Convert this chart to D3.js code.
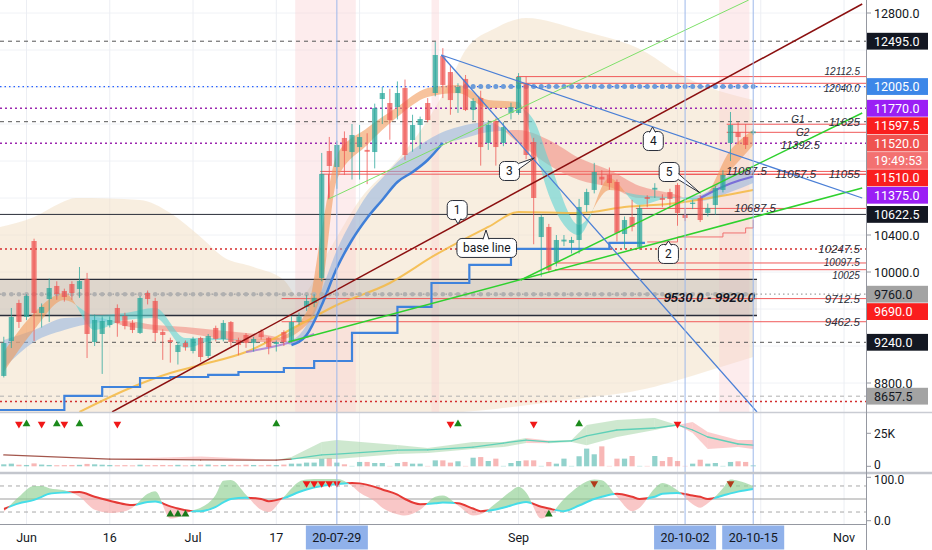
<!DOCTYPE html>
<html>
<head>
<meta charset="utf-8">
<script src="https://cdn.jsdelivr.net/npm/d3@7"></script>
<style>
  body { margin: 0; background: #fff; }
  svg { display: block; font-family: Roboto, "Liberation Sans", sans-serif; }
</style>
</head>
<body>
<svg id="chart" width="932" height="550"></svg>
<script>
'use strict';

// ---- candles, trading-day index 0 = 2020-05-27 ... 99 = 2020-10-15 : [open, high, low, close]
const candles = [
  [8876, 9300, 8860, 9232], [9254, 9611, 9178, 9514], [9665, 9700, 9395, 9460], [9514, 9760, 9480, 9741],
  [10335, 10360, 9254, 9557], [9557, 9660, 9400, 9622], [9708, 9930, 9460, 9827], [9849, 9900, 9700, 9762],
  [9795, 9820, 9680, 9730], [9870, 9900, 9700, 9773], [9816, 10054, 9720, 9903], [9924, 9990, 9070, 9330],
  [9243, 9540, 9200, 9481], [9330, 9520, 8898, 9470], [9427, 9520, 9400, 9481], [9611, 9650, 9300, 9449],
  [9524, 9560, 9380, 9416], [9449, 9480, 9340, 9373], [9341, 9740, 9330, 9719], [9773, 9800, 9650, 9708],
  [9687, 9720, 9250, 9341], [9352, 9380, 9050, 9319], [9265, 9290, 9020, 9243], [9135, 9240, 9000, 9211],
  [9232, 9260, 9150, 9189], [9146, 9300, 9120, 9276], [9287, 9300, 9030, 9081], [9092, 9330, 9070, 9308],
  [9395, 9420, 9250, 9276], [9276, 9480, 9250, 9449], [9459, 9470, 9200, 9243], [9265, 9290, 9100, 9211],
  [9319, 9340, 9180, 9232], [9232, 9300, 9140, 9276], [9362, 9380, 9270, 9297], [9287, 9300, 9110, 9189],
  [9222, 9260, 9140, 9243], [9351, 9370, 9200, 9243], [9254, 9520, 9240, 9459], [9459, 9560, 9430, 9520],
  [9622, 9750, 9580, 9687], [9665, 9760, 9620, 9720], [9935, 11287, 9900, 11060], [11308, 11460, 10800, 11146],
  [11135, 11420, 10900, 11373], [11449, 11520, 11050, 11308], [11297, 11600, 11000, 11481], [11351, 11590, 11000, 11459],
  [11320, 11500, 10950, 11300], [11297, 11820, 11120, 11773], [11870, 12000, 11600, 11935], [11827, 11980, 11430, 11643],
  [11784, 12060, 11650, 11935], [11989, 12080, 11210, 11265], [11427, 11700, 11300, 11589], [11589, 11680, 11330, 11654],
  [11827, 11880, 11620, 11643], [11935, 12486, 11900, 12346], [12335, 12420, 11880, 12022], [12162, 12240, 11700, 11859],
  [11935, 12040, 11720, 12000], [12087, 12130, 11740, 11751], [11751, 11880, 11640, 11849], [11881, 11960, 11150, 11351],
  [11395, 11640, 11320, 11589], [11632, 11660, 11150, 11351], [11395, 11620, 11360, 11567], [11719, 11830, 11650, 11784],
  [11719, 12150, 11700, 12108], [12043, 12110, 11220, 11265], [11405, 11450, 10300, 10800], [10378, 10620, 9950, 10595],
  [10487, 10520, 9990, 10022], [10108, 10400, 10060, 10346], [10330, 10400, 10280, 10350], [10314, 10380, 10200, 10346],
  [10346, 10790, 10200, 10703], [10724, 10900, 10650, 10865], [10887, 11180, 10850, 11081], [11030, 11100, 10940, 11000],
  [11049, 11130, 10890, 10962], [10973, 11000, 10330, 10422], [10411, 10600, 10250, 10562], [10595, 10780, 10440, 10487],
  [10270, 10720, 10240, 10692], [10810, 10830, 10700, 10790], [10890, 10960, 10800, 10910], [10800, 10840, 10700, 10780],
  [10865, 10900, 10700, 10789], [10941, 10960, 10500, 10638], [10616, 10680, 10550, 10584], [10735, 10780, 10680, 10750],
  [10800, 10830, 10540, 10562], [10638, 10740, 10600, 10692], [10724, 10930, 10620, 10908], [10887, 11100, 10860, 11049],
  [11395, 11730, 11200, 11589], [11513, 11620, 11380, 11459], [11459, 11600, 11330, 11373], [11500, 11540, 11480, 11520]
];

// volume in thousands, one per candle
const volumes = [
  1.5, 2.0, 1.2, 1.0, 2.2, 1.3, 1.0, 0.8, 0.9, 1.0, 1.1, 1.8, 1.5, 1.2, 1.0, 0.8, 0.9, 0.7, 1.2, 0.8,
  0.9, 1.0, 0.9, 1.1, 0.7, 1.0, 1.2, 1.3, 0.9, 1.0, 1.1, 0.8, 1.2, 1.0, 0.8, 1.1, 0.9, 1.3, 2.0, 2.0,
  2.8, 2.8, 5.8, 6.3, 2.8, 1.5, 0.3, 3.3, 3.3, 2.5, 2.5, 0.3, 2.5, 3.3, 2.0, 2.0, 0.3, 4.5, 4.5, 2.8,
  3.8, 0.3, 6.5, 7.0, 4.0, 5.8, 0.3, 2.5, 4.0, 4.5, 4.5, 0.3, 3.3, 2.0, 5.8, 0.3, 7.6, 13.4, 9.1, 15.1,
  0.3, 5.8, 5.8, 7.8, 0.3, 0.3, 7.8, 4.0, 7.0, 4.0, 0.3, 2.0, 5.0, 2.0, 2.5, 0.3, 3.3, 3.8, 3.3, 0.7
];

// time axis
const gridDays = [3, 14, 25, 36, 47, 68, 89, 100, 111];
const tickLabels = [['Jun', 3], ['16', 14], ['Jul', 25], ['17', 36], ['Sep', 68], ['Nov', 111]];
const markedDays = [[44, '20-07-29'], [90, '20-10-02'], [99, '20-10-15']];
const priceTicks = d3.range(8800, 12801, 400);

// envelope cloud [index], top / bottom price
const cloudIdx = [-0.5, 4, 7.5, 9.5, 18, 22, 26, 29, 33, 37, 39, 43, 47, 52, 56, 59, 61, 65, 69, 76, 85, 89, 93, 99];
const cloudTop = [10487, 10595, 10746, 10800, 10779, 10638, 10378, 10162, 10054, 9914, 9730, 10238, 10779, 11211,
  11643, 12076, 12400, 12638, 12746, 12616, 12368, 12151, 12000, 11860];
const cloudBot = [8450, 8450, 8450, 8450, 8450, 8450, 8450, 8450, 8450, 8450, 8450, 8450, 8450, 8460,
  8470, 8480, 8490, 8520, 8560, 8630, 8740, 8830, 8930, 9080];

// fast ribbon (orange / teal)
const ribAIdx = [0, 4, 8, 12, 16, 20, 24, 28, 32, 36, 40, 42, 44, 48, 52, 56, 60, 64, 68, 70, 72, 76, 80, 84, 88, 92, 96, 99];
const ribAFast = [9135, 9557, 9773, 9373, 9481, 9503, 9179, 9265, 9265, 9287, 9568, 10454, 11265, 11557,
  11784, 11989, 12022, 11860, 11838, 11373, 10833, 10400, 11016, 10724, 10800, 10779, 11319, 11535];
const ribASlow = [8919, 9373, 9698, 9535, 9557, 9611, 9287, 9287, 9265, 9265, 9427, 9806, 10995, 11373,
  11676, 11892, 11935, 11773, 11773, 11643, 11211, 10508, 10887, 10833, 10811, 10800, 11103, 11373];

// slow ribbon (blue / pink)
const ribBIdx = [0, 4, 8, 12, 16, 20, 24, 28, 32, 36, 38, 40, 42, 44, 46, 48, 50, 52, 54, 56, 58, 60, 64, 68, 72, 76, 80, 84, 88, 92, 96, 99];
const ribBFast = [9265, 9373, 9503, 9514, 9416, 9373, 9341, 9287, 9244, 9244, 9265, 9427, 9806, 10238, 10562, 10833,
  11016, 11189, 11319, 11427, 11514, 11568, 11622, 11395, 11157, 10995, 10919, 10800, 10800, 10833, 11049, 11103];
const ribBSlow = [8962, 9244, 9373, 9449, 9470, 9427, 9406, 9373, 9341, 9298, 9211, 9319, 9643, 10043, 10346, 10584,
  10779, 10973, 11081, 11211, 11395, 11427, 11514, 11535, 11427, 11233, 11103, 10930, 10854, 10768, 10865, 10962];

// base line (yellow), stepped line, short purple average, red trailing step
const baseIdx = [10, 17, 22, 26, 32, 39, 44, 51, 57, 64, 68, 76, 82, 89, 94, 99];
const baseVal = [8487, 8757, 8908, 8995, 9135, 9427, 9643, 9881, 10184, 10487, 10649, 10638, 10703, 10746, 10811, 10887];
const stepIdx = [-0.5, 8, 13, 18, 22, 27, 31, 37, 41, 46, 52, 56.5, 61.5, 67, 80, 84.7];
const stepVal = [8508, 8660, 8757, 8854, 8865, 8887, 8919, 8962, 9038, 9341, 9622, 9881, 10076, 10249, 10314, 10314];
const purIdx = [32, 38, 41];
const purVal = [9135, 9244, 9330];
const trailIdx = [85, 89, 95, 98, 99];
const trailVal = [10325, 10379, 10422, 10476, 10562];

// horizontal levels
const dashedLevels = [12495, 11625, 9240];
const grayDashLevels = [8657.5];
const purpleDotLevels = [11770, 11392.5];
const blueDotLevels = [12005];
const redDotLevels = [10247.5, 8600];
const solidLevels = [10622.5];
const grayDotLevels = [9760];
const redRays = [[12112.5, 67.8], [12040, 67.8], [11597.5, 95.5], [11510, 95.5], [11087.5, 41.8], [11057.5, 41.8],
  [11055, 71.6], [10687.5, 83.5], [10097.5, 72.8], [10025, 72.8], [9712.5, 36.7], [9462.5, 36.7]];
const zone = [9530, 9920];
const blueDots = [12005, 61, 99];
const grayDots = [9760, 0, 99];
const pinkBands = [[39, 43], [44, 46], [57, 57], [95, 98]];

// trend lines [index, price] -> [index, price]
const darkRedLine = [[14.3, 8487], [113.4, 12897]];
const greenThin = [[42.9, 10789], [98.4, 12940]];
const greenA = [[68.3, 9914], [113.4, 11719]];
const greenB = [[37.6, 9244], [113.4, 10908]];
const blueSteep = [[57.8, 12346], [99.5, 8487]];
const blueShallow = [[57.8, 12346], [113.4, 10800]];
const redTick = [[42.9, 11060], [42.9, 10789]];

// callouts: text, tip index, tip price, box index, box price
const callouts = [
  ['1', 60.0, 10519, 59.9, 10670], ['3', 70.1, 11233, 66.8, 11092], ['base line', 63.7, 10454, 63.8, 10260],
  ['4', 85.7, 11568, 85.8, 11416], ['5', 92.0, 10854, 87.9, 11081], ['2', 87.8, 10335, 87.8, 10195]
];

// italic level tags: text, price, right edge index
const lineTags = [
  ['12112.5', 12112.5, 113.1], ['12040.0', 12040, 113.1], ['11625', 11625, 113.1], ['G1', 11597.5, 105.8],
  ['G2', 11510, 106.4], ['11392.5', 11392.5, 107.8], ['11087.5', 11087.5, 100.8], ['11057.5', 11057.5, 107.3],
  ['11055', 11055, 113.1], ['10687.5', 10687.5, 102.0], ['10247.5', 10247.5, 113.1], ['10097.5', 10097.5, 113.1],
  ['10025', 10025, 113.1], ['9712.5', 9712.5, 113.1], ['9462.5', 9462.5, 113.1]
];

// price axis boxes: price, kind
const axisBoxes = [[12495, 'black'], [12005, 'blue'], [11770, 'purple'], [11597.5, 'red'], [11520, 'last'],
  [11510, 'red'], [11375, 'purple'], [10622.5, 'black'], [9760, 'gray'], [9690, 'red'], [9240, 'black'], [8657.5, 'gray']];
const countdown = '19:49:53';

// volume moving average and its band (thousands)
const volIdx = [0, 14, 26, 36, 38, 42, 44, 52, 56, 62, 66, 69, 72, 75, 77, 81, 86, 89, 91, 93, 97, 99];
const volMA = [8.6, 5.5, 4.8, 4.7, 5.5, 8.6, 9.3, 12.3, 12.4, 14.6, 17.6, 19.9, 18.5, 19.2, 23, 27.5, 29, 31.3, 27.5, 22.2, 16.9, 16.1];
const volUp = [8.6, 5.5, 7.5, 4.7, 7.0, 18.4, 19.9, 16.1, 13.9, 18.4, 18.4, 21.4, 19.5, 20, 31.3, 35, 36.6, 31.3, 33.6, 26, 19.9, 19.9];
const volLo = [8.6, 5.5, 4.8, 4.7, 5.5, 5.5, 5.5, 9.3, 10, 13.1, 14.6, 17.6, 17.5, 18.5, 16, 22.2, 27.5, 31.3, 25.2, 13.1, 14.6, 13.1];
const volBuyIdx = [3, 7, 10, 36, 60, 76];
const volSellIdx = [2, 5, 8, 15, 59, 70, 89];

// oscillator %K / %D
const oscIdx = [0, 2, 4, 5, 6, 8, 10, 12, 14, 16, 17, 19, 20, 22, 23, 25, 26, 28, 29, 30, 32, 34, 35, 37, 39, 40, 42, 44, 46, 47,
  49, 50, 52, 53, 55, 57, 58, 60, 62, 63, 65, 67, 68, 69, 71, 72, 74, 76, 78, 79, 81, 83, 84, 86, 87, 89, 91, 92, 93, 95, 96, 97, 99];
const oscK = [20, 55, 80, 80, 75, 70, 55, 25, 18, 22, 30, 62, 68, 5, 8, 24, 30, 60, 92, 94, 60, 25, 20, 55, 90, 95, 96, 96, 80, 65,
  45, 30, 15, 12, 25, 55, 58, 35, 12, 15, 40, 68, 78, 65, 5, 12, 50, 80, 95, 93, 55, 22, 30, 75, 87, 70, 38, 30, 40, 75, 95, 92, 80];
const oscD = [27, 40, 48, 55, 62, 65, 66, 55, 46, 38, 36, 43, 44, 33, 28, 22, 22, 32, 42, 50, 53, 50, 45, 52, 66, 72, 80, 84, 87, 86,
  78, 72, 60, 50, 38, 40, 42, 40, 28, 22, 26, 35, 40, 43, 32, 28, 22, 35, 50, 55, 62, 55, 50, 55, 62, 64, 58, 55, 50, 58, 63, 67, 73];
const oscBuyIdx = [22, 23, 24, 72];
const oscSellIdx = [40, 41, 42, 43, 44];
const oscSellIdx2 = [78, 96];
const oscLevels = [80, 50, 20];

// ---------------------------------------------------------------------------
const AX = 866;
const TEAL = '#26a69a', RED = '#ef5350';
const svg = d3.select('#chart');
const defs = svg.append('defs');

const x = d3.scaleLinear().domain([-0.5, 113.9]).range([0, AX]);
const y = d3.scaleLinear().domain([8800, 12800]).range([383, 13]);
const yVol = d3.scaleLinear().domain([0, 25]).range([466.3, 433.3]);
const yOsc = d3.scaleLinear().domain([0, 100]).range([520.7, 477.3]);

function panel(id, top, h) {
  defs.append('clipPath').attr('id', id).append('rect').attr('x', 0).attr('y', top).attr('width', AX).attr('height', h);
  return svg.append('g').attr('clip-path', `url(#${id})`);
}
const gMain = panel('clip-main', 0, 412);
const gVol = panel('clip-vol', 413, 59);
const gOsc = panel('clip-osc', 474, 50);

const pts = (idx, vals) => idx.map((i, k) => [x(i), y(vals[k])]);
const lineGen = d3.line();

// grid
gMain.selectAll('.hgrid').data(priceTicks).join('line').attr('class', 'hgrid')
  .attr('x1', 0).attr('x2', AX).attr('y1', d => y(d)).attr('y2', d => y(d))
  .attr('stroke', '#f0f2f6');
[gMain, gVol, gOsc].forEach(g => g.selectAll('.vgrid').data(gridDays).join('line').attr('class', 'vgrid')
  .attr('x1', d => x(d)).attr('x2', d => x(d)).attr('y1', 0).attr('y2', 524)
  .attr('stroke', '#eceef3'));

// cloud
gMain.append('path')
  .attr('d', d3.area().curve(d3.curveMonotoneX).x(d => x(d)).y0((d, k) => y(cloudBot[k])).y1((d, k) => y(cloudTop[k]))(cloudIdx))
  .attr('fill', '#f2e0c6').attr('opacity', 0.55);

// highlighted candles
gMain.selectAll('.pband').data(pinkBands).join('rect').attr('class', 'pband')
  .attr('x', d => x(d[0] - 0.5)).attr('width', d => x(d[1] + 0.5) - x(d[0] - 0.5))
  .attr('y', 0).attr('height', 412).attr('fill', '#fbcfd2').attr('opacity', 0.4);

// zone
gMain.append('rect').attr('x', x(-0.5)).attr('width', x(99.5) - x(-0.5))
  .attr('y', y(zone[1])).attr('height', y(zone[0]) - y(zone[1]))
  .attr('fill', '#9a9a9a').attr('opacity', 0.28);
gMain.selectAll('.zline').data(zone).join('line').attr('class', 'zline')
  .attr('x1', x(-0.5)).attr('x2', x(99.5)).attr('y1', d => y(d)).attr('y2', d => y(d))
  .attr('stroke', '#2a2e39').attr('stroke-width', 1.3);

// horizontal levels
function levels(vals, stroke, dash, width) {
  gMain.selectAll(null).data(vals).join('line')
    .attr('x1', 0).attr('x2', AX).attr('y1', d => y(d)).attr('y2', d => y(d))
    .attr('stroke', stroke).attr('stroke-width', width).attr('stroke-dasharray', dash);
}
levels(dashedLevels, '#555', '4,4', 1);
levels(grayDashLevels, '#b0b0b0', '4,4', 1);
levels(solidLevels, '#2a2e39', null, 1);
levels(blueDotLevels, '#2962ff', '1.5,3', 1.2);
levels(purpleDotLevels, '#9c27b0', '2,3', 1.5);
levels(redDotLevels, '#d32f2f', '2,3', 1.5);
levels(grayDotLevels, '#a0a0a0', '1.5,3', 1.2);
gMain.selectAll('.ray').data(redRays).join('line').attr('class', 'ray')
  .attr('x1', d => x(d[1])).attr('x2', AX).attr('y1', d => y(d[0])).attr('y2', d => y(d[0]))
  .attr('stroke', '#f05a5a').attr('stroke-width', 1);
gMain.append('line').attr('x1', x(67.8)).attr('x2', x(67.8)).attr('y1', y(12112.5)).attr('y2', y(12040))
  .attr('stroke', '#f05a5a');

// two-colour ribbon between curves a and b (a above b -> colUp)
let clipN = 0;
function ribbon(g, idx, a, b, scale, colUp, colDn, op) {
  const p = idx.map((i, k) => ({x: x(i), a: scale(a[k]), b: scale(b[k])}));
  const area = d3.area().curve(d3.curveMonotoneX).x(d => d.x);
  const id = 'rb' + (clipN++);
  defs.append('clipPath').attr('id', id + 'u').append('path').attr('d', area.y0(d => d.a).y1(700)(p));
  defs.append('clipPath').attr('id', id + 'd').append('path').attr('d', area.y0(-100).y1(d => d.a)(p));
  g.append('path').attr('clip-path', `url(#${id}u)`).attr('d', area.y0(-100).y1(d => d.b)(p))
    .attr('fill', colUp).attr('opacity', op);
  g.append('path').attr('clip-path', `url(#${id}d)`).attr('d', area.y0(d => d.b).y1(700)(p))
    .attr('fill', colDn).attr('opacity', op);
  return {id, p};
}
ribbon(gMain, ribBIdx, ribBFast, ribBSlow, y, '#8fb2e0', '#f0857a', 0.55);
ribbon(gMain, ribAIdx, ribAFast, ribASlow, y, '#f29b5c', '#5fd4d4', 0.6);

const smooth = d3.line().curve(d3.curveMonotoneX);
gMain.append('path').attr('d', smooth(pts(baseIdx, baseVal)))
  .attr('fill', 'none').attr('stroke', '#f5b942').attr('stroke-width', 2).attr('opacity', 0.85);
gMain.append('path').attr('d', smooth(pts(purIdx, purVal)))
  .attr('fill', 'none').attr('stroke', '#a57bd6').attr('stroke-width', 2).attr('opacity', 0.8);
gMain.append('path').attr('d', d3.line().curve(d3.curveStepAfter)(pts(stepIdx, stepVal)))
  .attr('fill', 'none').attr('stroke', '#3f83dc').attr('stroke-width', 2.2);
gMain.append('path').attr('d', d3.line().curve(d3.curveStepAfter)(pts(trailIdx, trailVal)))
  .attr('fill', 'none').attr('stroke', '#f07070').attr('stroke-width', 1);
const thickRun = ribBIdx.map((i, k) => [i, ribBSlow[k]]).filter(d => d[0] >= 38 && d[0] <= 58);
gMain.append('path').attr('d', smooth(thickRun.map(d => [x(d[0]), y(d[1])])))
  .attr('fill', 'none').attr('stroke', '#3f7fd8').attr('stroke-width', 2.5);
const thickEnd = ribBIdx.map((i, k) => [i, (ribBSlow[k] + ribBFast[k]) / 2]).filter(d => d[0] >= 92);
gMain.append('path').attr('d', smooth(thickEnd.map(d => [x(d[0]), y(d[1])])))
  .attr('fill', 'none').attr('stroke', '#7a6fd8').attr('stroke-width', 2.2);

// dotted circle rows
gMain.selectAll('.bdot').data(d3.range(blueDots[1], blueDots[2] + 1)).join('circle').attr('class', 'bdot')
  .attr('cx', d => x(d)).attr('cy', y(blueDots[0])).attr('r', 2.5).attr('fill', '#6b9bd8');
gMain.selectAll('.gdot').data(d3.range(grayDots[1], grayDots[2] + 1)).join('circle').attr('class', 'gdot')
  .attr('cx', d => x(d)).attr('cy', y(grayDots[0])).attr('r', 2.3).attr('fill', '#b0b0b0');

// candles
const isUp = d => d[3] >= d[0];
const bw = 5.2;
gMain.selectAll('.wick').data(candles).join('line').attr('class', 'wick')
  .attr('x1', (d, i) => x(i)).attr('x2', (d, i) => x(i)).attr('y1', d => y(d[1])).attr('y2', d => y(d[2]))
  .attr('stroke', d => isUp(d) ? TEAL : RED).attr('opacity', 0.75);
gMain.selectAll('.body').data(candles).join('rect').attr('class', 'body')
  .attr('x', (d, i) => x(i) - bw / 2).attr('width', bw)
  .attr('y', d => y(Math.max(d[0], d[3]))).attr('height', d => Math.max(1, Math.abs(y(d[0]) - y(d[3]))))
  .attr('fill', d => isUp(d) ? TEAL : RED).attr('opacity', 0.72);

// trend lines
function seg(l, stroke, w) {
  gMain.append('line').attr('x1', x(l[0][0])).attr('y1', y(l[0][1])).attr('x2', x(l[1][0])).attr('y2', y(l[1][1]))
    .attr('stroke', stroke).attr('stroke-width', w);
}
seg(redTick, '#f05a5a', 1);
seg(greenThin, '#7ee06a', 1);
seg(greenA, '#2ed12e', 1.5);
seg(greenB, '#2ed12e', 1.5);
seg(darkRedLine, '#8b1010', 1.5);
seg(blueSteep, '#4a7fd6', 1.3);
seg(blueShallow, '#4a7fd6', 1.3);

// callouts
callouts.forEach(([text, ti, tp, bi, bp]) => {
  const g = gMain.append('g');
  const tx = x(ti), ty = y(tp), cx = x(bi), cy = y(bp);
  const t = g.append('text').attr('x', cx).attr('y', cy + 4).attr('text-anchor', 'middle')
    .attr('font-size', 12).attr('fill', '#131722').text(text);
  const w = Math.max(20, t.node().getComputedTextLength() + 12), h = 19;
  const L = cx - w / 2, R = cx + w / 2, T = cy - h / 2, B = cy + h / 2;
  const dxo = Math.max(0, tx - R, L - tx), dyo = Math.max(0, T - ty, ty - B);
  let b1, b2;
  if (dyo >= dxo) {
    const bx = Math.max(L + 5, Math.min(R - 5, tx));
    const ey = ty < T ? T + 1 : B - 1;
    b1 = [bx - 3, ey]; b2 = [bx + 3, ey];
  } else {
    const by = Math.max(T + 5, Math.min(B - 5, ty));
    const ex = tx > R ? R - 1 : L + 1;
    b1 = [ex, by - 3]; b2 = [ex, by + 3];
  }
  g.insert('rect', 'text').attr('x', L).attr('y', T).attr('width', w).attr('height', h).attr('rx', 5)
    .attr('fill', '#fff').attr('stroke', '#2a2e39').attr('stroke-width', 1);
  g.insert('path', 'text').attr('d', `M${b1}L${tx},${ty}L${b2}`)
    .attr('fill', '#fff').attr('stroke', '#2a2e39').attr('stroke-width', 1);
});

// level tags; tags on close pairs of lines are nudged above / below their line: [dy, size]
const tagShift = {
  '12112.5': [-1.5, 10], '12040.0': [8.5, 10], 'G1': [-1, 10], 'G2': [3.5, 10], '11392.5': [6, 11],
  '10097.5': [3, 10], '10025': [9, 10]
};
gMain.selectAll('.tag').data(lineTags).join('text').attr('class', 'tag')
  .attr('x', d => x(d[2])).attr('y', d => y(d[1]) + (tagShift[d[0]] ? tagShift[d[0]][0] : 4))
  .attr('text-anchor', 'end')
  .attr('font-family', '"Liberation Sans", Arial, sans-serif').attr('font-style', 'italic')
  .attr('font-size', d => tagShift[d[0]] ? tagShift[d[0]][1] : 11.5).attr('fill', '#2a2e39').text(d => d[0]);
gMain.append('text').attr('x', x(99.2)).attr('y', y((zone[0] + zone[1]) / 2) + 5).attr('text-anchor', 'end')
  .attr('font-family', '"Liberation Sans", Arial, sans-serif').attr('font-style', 'italic').attr('font-weight', 'bold')
  .attr('font-size', 13).attr('fill', '#131722').text(`${zone[0].toFixed(1)} - ${zone[1].toFixed(1)}`);

// ---- volume panel
gVol.selectAll('.vbar').data(volumes).join('rect').attr('class', 'vbar')
  .attr('x', (d, i) => x(i) - bw / 2).attr('width', bw)
  .attr('y', d => yVol(d)).attr('height', d => yVol(0) - yVol(d))
  .attr('fill', (d, i) => isUp(candles[i]) ? TEAL : RED).attr('opacity', (d, i) => isUp(candles[i]) ? 0.5 : 0.42);
for (let k = 0; k < volIdx.length - 1; k++) {
  const poly = [[x(volIdx[k]), yVol(volUp[k])], [x(volIdx[k + 1]), yVol(volUp[k + 1])],
    [x(volIdx[k + 1]), yVol(volLo[k + 1])], [x(volIdx[k]), yVol(volLo[k])]];
  const rising = volMA[k + 1] >= volMA[k];
  gVol.append('path').attr('d', lineGen(poly) + 'Z')
    .attr('fill', rising ? '#a5d6a7' : '#f8a5a5').attr('opacity', 0.55);
  gVol.append('line').attr('x1', x(volIdx[k])).attr('y1', yVol(volMA[k])).attr('x2', x(volIdx[k + 1])).attr('y2', yVol(volMA[k + 1]))
    .attr('stroke', volIdx[k] < 38 ? '#a3564c' : '#5fd0b8').attr('stroke-width', 1.3).attr('stroke-linecap', 'round');
}
const tri = d3.symbol(d3.symbolTriangle, 26);
gVol.selectAll('.vb').data(volBuyIdx).join('path').attr('class', 'vb')
  .attr('d', tri).attr('transform', d => `translate(${x(d)},424)`).attr('fill', '#1b8a1b');
gVol.selectAll('.vs').data(volSellIdx).join('path').attr('class', 'vs')
  .attr('d', tri).attr('transform', d => `translate(${x(d)},424) rotate(180)`).attr('fill', '#f01818');

// ---- oscillator panel
gOsc.selectAll('.olev').data(oscLevels).join('line').attr('class', 'olev')
  .attr('x1', 0).attr('x2', AX).attr('y1', d => yOsc(d)).attr('y2', d => yOsc(d))
  .attr('stroke', d => d === 50 ? '#9e9e9e' : '#a8a8a8').attr('stroke-dasharray', d => d === 50 ? null : '4,4');
const osc = ribbon(gOsc, oscIdx, oscK, oscD, yOsc, '#8fcf92', '#f6a9a9', 0.65);
const dLine = d3.line().curve(d3.curveMonotoneX).x(d => d.x).y(d => d.b)(osc.p);
gOsc.append('path').attr('clip-path', `url(#${osc.id}u)`).attr('d', dLine)
  .attr('fill', 'none').attr('stroke', '#45dde8').attr('stroke-width', 2);
gOsc.append('path').attr('clip-path', `url(#${osc.id}d)`).attr('d', dLine)
  .attr('fill', 'none').attr('stroke', '#e53935').attr('stroke-width', 2);
gOsc.selectAll('.ob').data(oscBuyIdx).join('path').attr('class', 'ob')
  .attr('d', tri).attr('transform', d => `translate(${x(d)},${yOsc(15)})`).attr('fill', '#1b7a1b');
gOsc.selectAll('.os').data(oscSellIdx).join('path').attr('class', 'os')
  .attr('d', tri).attr('transform', d => `translate(${x(d)},${yOsc(86)}) rotate(180)`).attr('fill', '#f01818');
gOsc.selectAll('.os2').data(oscSellIdx2).join('path').attr('class', 'os2')
  .attr('d', tri).attr('transform', d => `translate(${x(d)},${yOsc(86)}) rotate(180)`).attr('fill', '#b13a1a');

// marked day verticals over all panels
svg.selectAll('.mday').data(markedDays).join('line').attr('class', 'mday')
  .attr('x1', d => x(d[0])).attr('x2', d => x(d[0])).attr('y1', 0).attr('y2', 524)
  .attr('stroke', '#9db8ea').attr('stroke-width', 1);

// separators and axis frame
svg.append('line').attr('x1', 0).attr('x2', 932).attr('y1', 412.5).attr('y2', 412.5).attr('stroke', '#c9ccd3').attr('stroke-width', 1.5);
svg.append('line').attr('x1', 0).attr('x2', 932).attr('y1', 473).attr('y2', 473).attr('stroke', '#c3c6cd').attr('stroke-width', 2.5);
svg.append('line').attr('x1', 0).attr('x2', AX).attr('y1', 524.5).attr('y2', 524.5).attr('stroke', '#9598a1');
svg.append('line').attr('x1', AX + 0.5).attr('x2', AX + 0.5).attr('y1', 0).attr('y2', 550).attr('stroke', '#9598a1');

// ---- price axis
const boxH = 17.4;
let prev = -Infinity;
const placed = axisBoxes.slice().sort((a, b) => b[0] - a[0]).map(([p, kind]) => {
  const yy = Math.max(y(p), prev + boxH);
  prev = yy + (kind === 'last' ? boxH : 0);
  return {p, kind, y: yy};
});
const boxYs = placed.flatMap(d => d.kind === 'last' ? [d.y, d.y + boxH] : [d.y]);
const axisG = svg.append('g').attr('font-size', 12.5);
priceTicks.filter(t => boxYs.every(b => Math.abs(b - y(t)) >= 9)).forEach(t => {
  axisG.append('line').attr('x1', AX).attr('x2', AX + 5).attr('y1', y(t)).attr('y2', y(t)).attr('stroke', '#9598a1');
  axisG.append('text').attr('x', AX + 8).attr('y', y(t) + 4.5).attr('fill', '#131722').text(t.toFixed(1));
});
const kinds = {
  black: ['#131722', '#fff'], blue: ['#3d87e8', '#fff'], purple: ['#9a1ff5', '#fff'], red: ['#fa1e1e', '#fff'],
  last: ['#ef5350', '#fff'], gray: ['#a3a3a3', '#131722']
};
placed.forEach(d => {
  const [bg, fg] = kinds[d.kind];
  axisG.append('rect').attr('x', AX + 1).attr('y', d.y - boxH / 2 + 0.3).attr('width', 61).attr('height', boxH - 0.6).attr('fill', bg);
  axisG.append('text').attr('x', AX + 8).attr('y', d.y + 4.5).attr('fill', fg).text(d.p.toFixed(1));
  if (d.kind === 'last') {
    axisG.append('rect').attr('x', AX + 1).attr('y', d.y + boxH / 2 + 0.3).attr('width', 61).attr('height', boxH - 0.6).attr('fill', '#f37171');
    axisG.append('text').attr('x', AX + 8).attr('y', d.y + boxH + 4.5).attr('fill', '#fff').text(countdown);
  }
});
// lower panel scales: labels nudged inward so neighbouring panels' labels stay apart
[[25, '25K', 4.5], [0, '0', 2.5]].forEach(([v, s, dy]) => {
  axisG.append('line').attr('x1', AX).attr('x2', AX + 5).attr('y1', yVol(v)).attr('y2', yVol(v)).attr('stroke', '#9598a1');
  axisG.append('text').attr('x', AX + 8).attr('y', yVol(v) + dy).attr('font-size', 12).attr('fill', '#131722').text(s);
});
[[100, '100.0', 6.5], [0, '0.0', 4]].forEach(([v, s, dy]) => {
  axisG.append('line').attr('x1', AX).attr('x2', AX + 5).attr('y1', yOsc(v)).attr('y2', yOsc(v)).attr('stroke', '#9598a1');
  axisG.append('text').attr('x', AX + 8).attr('y', yOsc(v) + dy).attr('font-size', 12).attr('fill', '#131722').text(s);
});

// ---- time axis
const timeG = svg.append('g').attr('font-size', 12.5).attr('text-anchor', 'middle');
tickLabels.forEach(([s, i]) => {
  timeG.append('text').attr('x', x(i)).attr('y', 541.5).attr('fill', '#131722').text(s);
});
markedDays.forEach(([i, s]) => {
  timeG.append('rect').attr('x', x(i) - 31).attr('y', 525.5).attr('width', 62).attr('height', 24).attr('fill', '#90b1ea');
  timeG.append('text').attr('x', x(i)).attr('y', 541.5).attr('fill', '#131722').text(s);
});
</script>
</body>
</html>
